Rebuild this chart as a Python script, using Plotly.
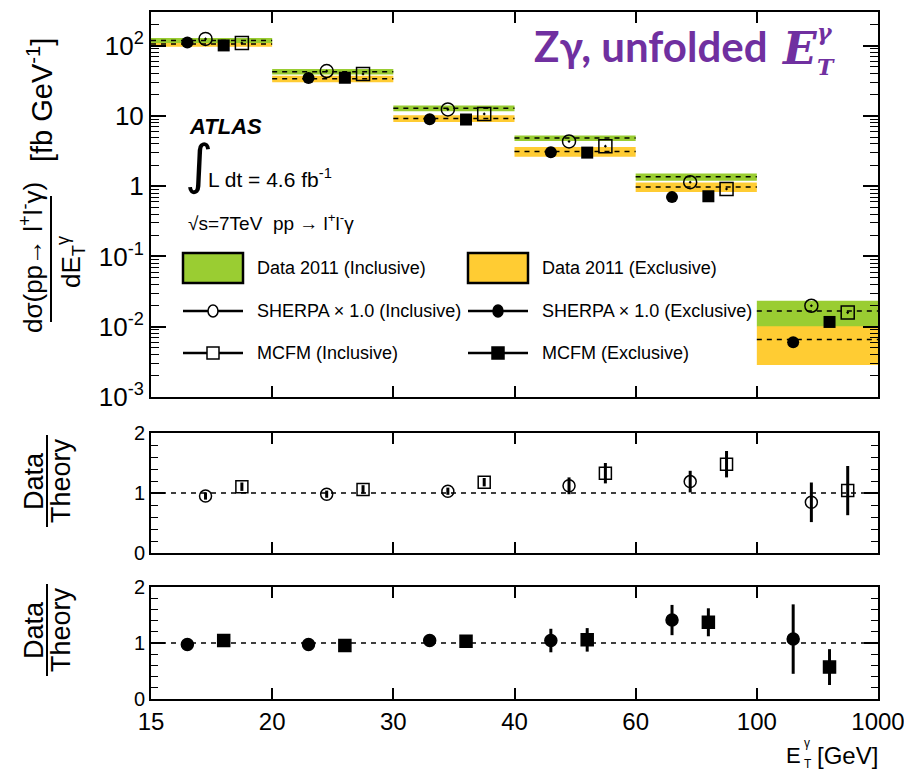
import plotly.graph_objects as go

# ---------------- data ----------------
bin_labels = ["15", "20", "30", "40", "60", "100", "1000"]
bin_index = [0, 1, 2, 3, 4, 5]

data_incl = [119, 42.7, 12.9, 4.85, 1.36, 0.0168]
data_incl_err = [10, 3.8, 1.2, 0.44, 0.16, 0.0066]
data_excl = [106, 33.8, 9.2, 3.12, 0.977, 0.00656]
data_excl_err = [9, 3.7, 1.0, 0.5, 0.15, 0.0037]

sherpa_excl = [111, 34.7, 9.0, 3.05, 0.70, 0.0060]
sherpa_incl = [125, 43.6, 12.4, 4.34, 1.14, 0.0199]
mcfm_excl = [101, 35.0, 8.9, 3.01, 0.72, 0.0117]
mcfm_incl = [109, 39.5, 10.7, 3.72, 0.914, 0.0159]

ratio_sherpa_incl = [0.95, 0.98, 1.03, 1.12, 1.19, 0.845]
ratio_sherpa_incl_err = [0.06, 0.06, 0.06, 0.14, 0.18, 0.33]
ratio_mcfm_incl = [1.105, 1.06, 1.18, 1.33, 1.48, 1.04]
ratio_mcfm_incl_err = [0.07, 0.07, 0.07, 0.17, 0.22, 0.41]

ratio_sherpa_excl = [0.973, 0.973, 1.044, 1.044, 1.41, 1.07]
ratio_sherpa_excl_err = [0.05, 0.05, 0.06, 0.21, 0.27, 0.62]
ratio_mcfm_excl = [1.044, 0.956, 1.03, 1.056, 1.37, 0.57]
ratio_mcfm_excl_err = [0.06, 0.06, 0.06, 0.21, 0.25, 0.32]

# offsets of markers inside a bin
OFF_SE, OFF_SI, OFF_ME, OFF_MI = 0.30, 0.45, 0.60, 0.75

GREEN = "#9ACD32"
YELLOW = "#FFCC33"
PURPLE = "#7030A0"
FONT = "Liberation Sans"

# pixel -> paper helpers (plot area 151..878 x 12..699)
L, R, T, B = 151, 878, 12, 699
def px(x):
    return (x - L) / (R - L)
def py(y):
    return (B - y) / (B - T)

fig = go.Figure()

# ---------------- top panel bands ----------------
def band_trace(vals, errs, color):
    xs, ys = [], []
    for i, v, e in zip(bin_index, vals, errs):
        xs += [i, i + 1, i + 1, i, i, None]
        ys += [v - e, v - e, v + e, v + e, v - e, None]
    return go.Scatter(x=xs, y=ys, fill="toself", fillcolor=color, mode="lines",
                      line=dict(width=0, color=color), hoverinfo="skip",
                      showlegend=False, xaxis="x", yaxis="y")

def center_trace(vals):
    xs, ys = [], []
    for i, v in zip(bin_index, vals):
        xs += [i, i + 1, None]
        ys += [v, v, None]
    return go.Scatter(x=xs, y=ys, mode="lines",
                      line=dict(color="black", width=1.5, dash="5px,5px"),
                      showlegend=False, hoverinfo="skip", xaxis="x", yaxis="y")

fig.add_trace(band_trace(data_excl, data_excl_err, YELLOW))
fig.add_trace(band_trace(data_incl, data_incl_err, GREEN))
fig.add_trace(center_trace(data_excl))
fig.add_trace(center_trace(data_incl))

def xs_off(off):
    return [i + off for i in bin_index]

fig.add_trace(go.Scatter(x=xs_off(OFF_SE), y=sherpa_excl, mode="markers",
                         marker=dict(symbol="circle", size=12, color="black"),
                         showlegend=False, xaxis="x", yaxis="y"))
fig.add_trace(go.Scatter(x=xs_off(OFF_SI), y=sherpa_incl, mode="markers",
                         marker=dict(symbol="circle-open-dot", size=13, color="black",
                                     line=dict(width=1.5)),
                         showlegend=False, xaxis="x", yaxis="y"))
fig.add_trace(go.Scatter(x=xs_off(OFF_ME), y=mcfm_excl, mode="markers",
                         marker=dict(symbol="square", size=12, color="black"),
                         showlegend=False, xaxis="x", yaxis="y"))
fig.add_trace(go.Scatter(x=xs_off(OFF_MI), y=mcfm_incl, mode="markers",
                         marker=dict(symbol="square-open-dot", size=13, color="black",
                                     line=dict(width=1.5)),
                         showlegend=False, xaxis="x", yaxis="y"))

# ---------------- ratio panels ----------------
def ratio_trace(off, vals, errs, symbol, xa, ya):
    return go.Scatter(x=xs_off(off), y=vals, mode="markers",
                      marker=dict(symbol=symbol, size=12, color="black",
                                  line=dict(width=1.5, color="black")),
                      error_y=dict(type="data", array=errs, visible=True,
                                   color="black", thickness=3, width=0),
                      showlegend=False, xaxis=xa, yaxis=ya)

fig.add_trace(ratio_trace(OFF_SI, ratio_sherpa_incl, ratio_sherpa_incl_err,
                          "circle-open", "x2", "y2"))
fig.add_trace(ratio_trace(OFF_MI, ratio_mcfm_incl, ratio_mcfm_incl_err,
                          "square-open", "x2", "y2"))
fig.add_trace(ratio_trace(OFF_SE, ratio_sherpa_excl, ratio_sherpa_excl_err,
                          "circle", "x3", "y3"))
fig.add_trace(ratio_trace(OFF_ME, ratio_mcfm_excl, ratio_mcfm_excl_err,
                          "square", "x3", "y3"))

# unity lines
for xr, yr in (("x2", "y2"), ("x3", "y3")):
    fig.add_shape(type="line", xref=xr, yref=yr, x0=0, x1=6, y0=1, y1=1,
                  line=dict(color="black", width=1.5, dash="5px,5px"), layer="below")

# ---------------- axes ----------------
tick_pos = list(range(len(bin_labels)))
xcommon = dict(range=[0, 6], tickvals=tick_pos, ticktext=bin_labels, ticks="inside",
               ticklen=11, tickwidth=1.5, tickcolor="black", showline=True, linewidth=2,
               linecolor="black", mirror="allticks", showgrid=False, zeroline=False,
               ticklabeloverflow="allow", automargin=False,
               tickfont=dict(family=FONT, size=24, color="black"))
ycommon = dict(ticks="inside", tickwidth=1.5, tickcolor="black", showline=True,
               linewidth=2, linecolor="black", mirror="allticks", showgrid=False,
               zeroline=False, automargin=False)

dom_top = [py(397), 1.0]
dom_mid = [py(553), py(433)]
dom_bot = [0.0, py(587)]

fig.update_layout(
    width=904, height=772,
    margin=dict(l=L, r=904 - R, t=T, b=772 - B, autoexpand=False),
    paper_bgcolor="white", plot_bgcolor="white",
    showlegend=False,
    xaxis=dict(**xcommon, domain=[0, 1], anchor="y", showticklabels=False),
    yaxis=dict(**ycommon, type="log", range=[-3, 2.48], domain=dom_top, anchor="x",
               tickvals=[1e-3, 1e-2, 1e-1, 1, 10, 100],
               ticktext=["10<sup>-3</sup>", "10<sup>-2</sup>", "10<sup>-1</sup>", "1", "10",
                         "10<sup>2</sup>"],
               ticklen=15, tickfont=dict(family=FONT, size=26, color="black"),
               minor=dict(ticks="inside", ticklen=8, tickwidth=1.2, tickcolor="black",
                          dtick="D1", showgrid=False)),
    xaxis2=dict(**xcommon, domain=[0, 1], anchor="y2", showticklabels=False),
    yaxis2=dict(**ycommon, range=[0, 2], domain=dom_mid, anchor="x2",
                tickvals=[0, 1, 2], ticklen=14,
                tickfont=dict(family=FONT, size=20, color="black"),
                minor=dict(ticks="inside", ticklen=7, tickwidth=1.2, tickcolor="black",
                           dtick=0.2, showgrid=False)),
    xaxis3=dict(**xcommon, domain=[0, 1], anchor="y3", showticklabels=True),
    yaxis3=dict(**ycommon, range=[0, 2], domain=dom_bot, anchor="x3",
                tickvals=[0, 1, 2], ticklen=14,
                tickfont=dict(family=FONT, size=20, color="black"),
                minor=dict(ticks="inside", ticklen=7, tickwidth=1.2, tickcolor="black",
                           dtick=0.2, showgrid=False)),
)

ann = []
def text(x, y, s, size, family=FONT, color="black", xanchor="left", yanchor="middle",
         angle=0, weight=None):
    f = dict(family=family, size=size, color=color)
    if weight:
        f["weight"] = weight
    ann.append(dict(x=px(x), y=py(y), xref="paper", yref="paper", text=s,
                    showarrow=False, xanchor=xanchor, yanchor=yanchor, textangle=angle,
                    font=f))

# title
text(532, 46, "Zγ, unfolded", 42, family="Lato", color=PURPLE, weight=700)
text(779, 48, "<b><i>E</i></b>", 44, family="DejaVu Serif", color=PURPLE)
text(815, 32, "<b><i>γ</i></b>", 22, family="DejaVu Serif", color=PURPLE)
text(815, 67, "<b><i>T</i></b>", 22, family="DejaVu Serif", color=PURPLE)

# ATLAS block
text(187, 126, "<b><i>ATLAS</i></b>", 22)
text(183, 164, "∫", 54, family="DejaVu Sans")
text(206, 178, "L dt = 4.6 fb<sup>-1</sup>", 21)
text(186, 222, "√s=7TeV  pp → l<sup>+</sup>l<sup>-</sup>γ", 19)

# legend
rows = [268, 311, 353]
cols_sym = [(183, 243), (468, 528)]
cols_txt = [255, 540]
labels = [["Data 2011 (Inclusive)", "Data 2011 (Exclusive)"],
          ["SHERPA × 1.0 (Inclusive)", "SHERPA × 1.0 (Exclusive)"],
          ["MCFM (Inclusive)", "MCFM (Exclusive)"]]
for r, yrow in enumerate(rows):
    for c in range(2):
        text(cols_txt[c], yrow, labels[r][c], 18)
        x0, x1 = cols_sym[c]
        xm = (x0 + x1) / 2
        if r == 0:
            fig.add_shape(type="rect", xref="paper", yref="paper",
                          x0=px(x0), x1=px(x1), y0=py(yrow + 15), y1=py(yrow - 15),
                          fillcolor=GREEN if c == 0 else YELLOW,
                          line=dict(color="black", width=2.5))
        else:
            fig.add_shape(type="line", xref="paper", yref="paper",
                          x0=px(x0), x1=px(x1), y0=py(yrow), y1=py(yrow),
                          line=dict(color="black", width=2.5))
            filled = (c == 1)
            if r == 1:
                fig.add_shape(type="circle", xref="paper", yref="paper",
                              x0=px(xm - 5), x1=px(xm + 5), y0=py(yrow + 6),
                              y1=py(yrow - 6),
                              fillcolor="black" if filled else "white",
                              line=dict(color="black", width=1.5))
            else:
                fig.add_shape(type="rect", xref="paper", yref="paper",
                              x0=px(xm - 6), x1=px(xm + 6), y0=py(yrow + 6),
                              y1=py(yrow - 6),
                              fillcolor="black" if filled else "white",
                              line=dict(color="black", width=1.5))

# y-axis title top (fraction)
text(31, 258, "dσ(pp→ l<sup>+</sup>l<sup>-</sup>γ)", 26, xanchor="center", angle=-90)
fig.add_shape(type="line", xref="paper", yref="paper", x0=px(51), x1=px(51),
              y0=py(196), y1=py(322), line=dict(color="black", width=2))
text(71, 262, "dE<sub>T</sub><sup>γ</sup>", 26, xanchor="center", angle=-90)
text(40, 100, "[fb GeV<sup>-1</sup>]", 29, xanchor="center", angle=-90)

# ratio titles
for yc in (481, 630):
    text(34, yc, "Data", 27, xanchor="center", angle=-90)
    fig.add_shape(type="line", xref="paper", yref="paper", x0=px(47), x1=px(47),
                  y0=py(yc - 46), y1=py(yc + 46), line=dict(color="black", width=2))
    text(61, yc, "Theory", 27, xanchor="center", angle=-90)

# x-axis title
text(784, 755, "E", 22)
text(802, 743, "γ", 12)
text(802, 764, "T", 12)
text(880, 755, "[GeV]", 24, xanchor="right")

fig.update_layout(annotations=ann)
fig.write_html("out.html")
